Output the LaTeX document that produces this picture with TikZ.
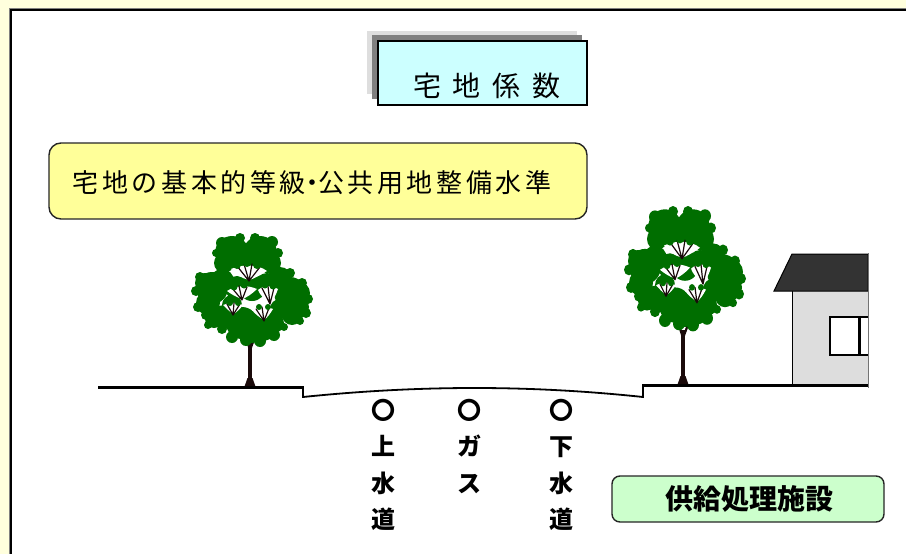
\documentclass[tikz,border=0pt]{standalone}
\usepackage{fontspec}
\setmainfont{Noto Sans CJK JP}
\definecolor{bgcream}{RGB}{255,255,221}
\definecolor{titlecyan}{RGB}{204,255,255}
\definecolor{boxyellow}{RGB}{255,255,153}
\definecolor{boxgreen}{RGB}{204,255,204}
\definecolor{leaf}{RGB}{0,110,0}
\definecolor{bark}{RGB}{26,10,10}
\definecolor{roof}{RGB}{51,51,51}
\definecolor{wall}{RGB}{221,221,221}
\newcommand\treecanopyX{%
  % crown made of overlapping clumps
  \foreach \cx/\cy/\r in {
     -20/-40/17, 8/-40/17, -5/-30/14, 18/-30/11, -28/-30/10,
     -40/-5/16, -44/10/12, -30/-12/12, -47/-10/10,
     0/-6/14, -15/-5/12, 15/-8/12,
     38/0/16, 45/14/12, 28/-14/12, 40/22/10, 47/0/11,
     -10/30/16, 10/32/16, -28/24/12, 0/38/12, 22/30/10, -38/26/9, 28/16/10, -20/12/10}
    {\fill[leaf] (\cx,\cy) circle[radius=\r];}
  % wavy edge bumps
  \foreach \cx/\cy/\r in {
     -30/-50/6, -12/-55/5, 3/-55/5, 20/-51/6, 26/-40/5, -36/-40/4,
     -52/-16/5, -56/-2/5, -54/14/5, -46/22/5, -44/32/4,
     38/-20/5, 50/-10/5, 56/6/5, 54/20/5, 48/28/4,
     -30/36/5, -20/44/6, -6/47/6, 8/48/6, 22/42/6, 32/34/4}
    {\fill[leaf] (\cx,\cy) circle[radius=\r];}
  % white openings where the branches show
  \fill[white] (-21,-24) .. controls (-10,-29) and (6,-29) .. (15,-22) .. controls (8,-18) and (2,-14) .. (-3,-13) .. controls (-10,-15) and (-17,-18) .. cycle;
  \fill[white] (-25,-2) .. controls (-16,-8) and (-4,-8) .. (5,-4) .. controls (0,1) and (-6,5) .. (-10,6) .. controls (-16,4) and (-21,1) .. cycle;
  \fill[white] (6,-3) .. controls (12,-8) and (20,-8) .. (26,-4) .. controls (24,2) and (21,8) .. (18,10) .. controls (12,6) and (8,2) .. cycle;
  \fill[white] (-29,12) .. controls (-22,9) and (-14,9) .. (-9,12) .. controls (-12,16) and (-16,20) .. (-19,21) .. controls (-23,18) and (-26,15) .. cycle;
  \fill[white] (0,17) .. controls (6,13) and (15,13) .. (21,16) .. controls (18,21) and (15,25) .. (12,27) .. controls (7,24) and (3,21) .. cycle;
  % twigs fanning up through the openings
  \draw[bark,line width=1.2pt,line cap=round]
     (-3,-12) -- (-15,-27) (-3,-12) -- (-8,-29) (-3,-12) -- (0,-29) (-3,-12) -- (8,-26)
     (-10,7) -- (-20,-5) (-10,7) -- (-13,-7) (-10,7) -- (-5,-6)
     (18,11) -- (10,-5) (18,11) -- (16,-7) (18,11) -- (22,-5)
     (-19,22) -- (-25,11) (-19,22) -- (-18,10) (-19,22) -- (-12,11)
     (12,28) -- (4,16) (12,28) -- (10,14) (12,28) -- (17,15);
  % scalloped lower edges of the clumps above the openings
  \foreach \cx/\cy/\r in {-15/-28/4, -5/-30/4, 5/-28/4, -18/-6/3.5, -8/-8/3.5, 13/-8/3.5, 21/-7/3.5, -22/10/3, -14/10/3, 7/14/3, 16/14/3}
    {\fill[leaf] (\cx,\cy) circle[radius=\r];}
}
\begin{document}
\begin{tikzpicture}[x=1pt,y=-1pt,
  every node/.style={inner sep=0pt},
  titlebox/.style={draw=black,line width=1.8pt,fill=titlecyan,minimum width=209pt,minimum height=64pt},
  infobox/.style={draw=black!85,line width=1.4pt,rounded corners=12pt,fill=boxyellow,minimum width=538pt,minimum height=76pt},
  facilbox/.style={draw=black!85,line width=1.4pt,rounded corners=8pt,fill=boxgreen,minimum width=272pt,minimum height=46pt},
  pipelabel/.style={align=center,font=\bfseries\fontsize{24}{36.5}\selectfont},
  groundthick/.style={line width=3pt,black},
  groundthin/.style={line width=1.8pt,black}]
\useasboundingbox (0,0) rectangle (906,554);
% background and frame
\fill[bgcream] (0,0) rectangle (906,554);
\fill[white] (11,10) rectangle (906,554);
\draw[gray,line width=1pt] (9.2,554) -- (9.2,8.2) -- (906,8.2);
\draw[black,line width=2pt] (11,554) -- (11,10) -- (906,10);
% title with shadows
\fill[black!13] (367,31) rectangle (577,94);
\fill[black!50] (372,35) rectangle (582,99);
\node[titlebox] (titlebox) at (482.5,73) {};
\node[font=\fontsize{28}{30}\selectfont] (title) at (487,86) {宅\hspace{12pt}地\hspace{12pt}係\hspace{12pt}数};
% yellow info box
\node[infobox] (info) at (318,181) {};
\node[font=\fontsize{26}{30}\selectfont\addfontfeature{LetterSpace=14}] (infotext) at (312,183) {宅地の基本的等級\kern-7pt・\kern-7pt公共用地整備水準};
% tree 1
\fill[bark] (244,388) -- (256,388) -- (252.5,378) -- (247.5,378) -- cycle;
\draw[bark,line width=4pt] (250,386) -- (250,342);
\draw[bark,line width=2.2pt] (250,350) -- (245,334);
\draw[bark,line width=2.2pt] (250,350) -- (256,334);
\begin{scope}[shift={(252,293)}]
  \treecanopyX
\end{scope}
% tree 2
\fill[bark] (677,386) -- (689,386) -- (685.5,376) -- (680.5,376) -- cycle;
\draw[bark,line width=4pt] (683,384) -- (683,330);
\draw[bark,line width=2.2pt] (683,338) -- (678,322);
\draw[bark,line width=2.2pt] (683,338) -- (689,322);
\begin{scope}[shift={(685,272)},yscale=1.1]
  \treecanopyX
\end{scope}
% house
\fill[wall] (792,291) rectangle (868,385);
\draw[black,line width=1pt] (792,385) -- (792,291);
\filldraw[fill=roof,draw=black,line width=1pt] (792,254) -- (868,254) -- (868,291) -- (774,291) -- cycle;
\filldraw[fill=white,draw=black,line width=1.5pt] (868,317) -- (830,317) -- (830,355) -- (868,355);
\draw[black,line width=3pt] (859,317) -- (859,355);
\draw[black!55,line width=0.8pt] (868.6,253) -- (868.6,388);
% ground
\draw[groundthick] (98,387.5) -- (303,387.5);
\draw[groundthin] (303,386) -- (303,397) .. controls (420,385) and (530,385) .. (643,397) -- (643,386);
\draw[groundthick] (642,385.5) -- (868,385.5);
% pipe labels
\node[pipelabel,anchor=north] (water) at (383,399) {〇\\上\\水\\道};
\node[pipelabel,anchor=north] (gas) at (469,399) {〇\\ガ\\ス};
\node[pipelabel,anchor=north] (sewer) at (561,399) {〇\\下\\水\\道};
% facility box
\node[facilbox] (facil) at (748,499) {};
\node[font=\bfseries\fontsize{28}{30}\selectfont] (faciltext) at (749,499) {供給処理施設};
\end{tikzpicture}
\end{document}
